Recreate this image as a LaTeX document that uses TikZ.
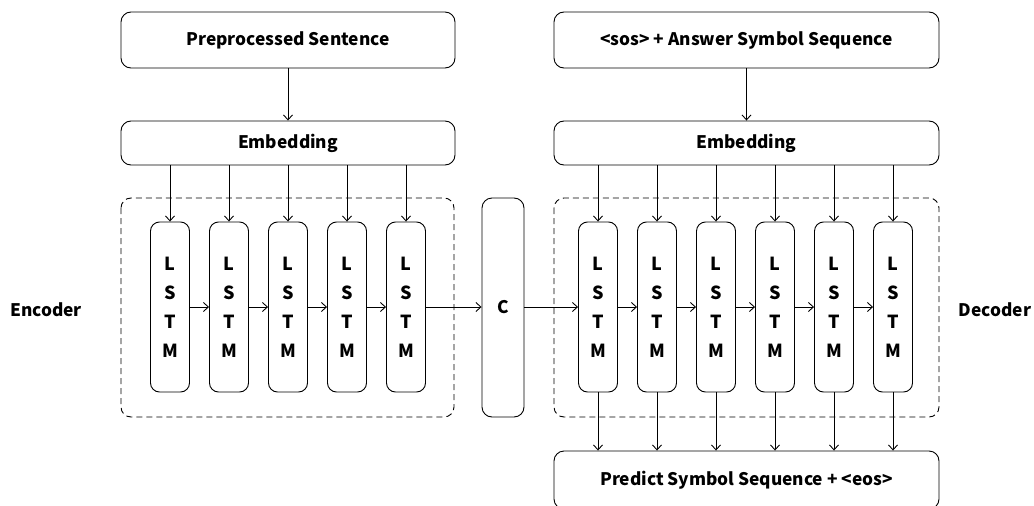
\documentclass[tikz,border=0pt]{standalone}
\usepackage{fontspec}
\setmainfont{Noto Sans CJK KR}
\usetikzlibrary{arrows.meta}
\begin{document}
\begin{tikzpicture}[x=1pt,y=-1pt,
  line width=0.9pt,
  box/.style={draw, rounded corners=10pt, inner sep=0pt, font=\bfseries\fontsize{17.3}{22}\selectfont},
  cell/.style={draw, rounded corners=9pt, inner sep=0pt, minimum width=39pt, minimum height=170pt, align=center, font=\bfseries\fontsize{18}{29}\selectfont},
  grp/.style={draw, dashed, dash pattern=on 6pt off 4pt, rounded corners=10pt},
  lab/.style={font=\bfseries\fontsize{17.3}{22}\selectfont},
  arr/.style={-{Straight Barb[length=5pt,width=9pt]}}
]
\useasboundingbox (0,0) rectangle (1034,506);
\clip (0,0) rectangle (1034,506);
% groups
\draw[grp] (121,198) rectangle (454,417);
\draw[grp] (554,198) rectangle (939,417);
% top boxes
\node[box, minimum width=334pt, minimum height=56pt] (srcL) at (288,40) {Preprocessed Sentence};
\node[box, minimum width=334pt, minimum height=44pt] (embL) at (288,143) {Embedding};
\node[box, minimum width=385pt, minimum height=56pt] (srcR) at (746.5,40) {<sos> + Answer Symbol Sequence};
\node[box, minimum width=385pt, minimum height=44pt] (embR) at (746.5,143) {Embedding};
\node[box, minimum width=385pt, minimum height=58pt] (out) at (746.5,480) {Predict Symbol Sequence + <eos>};
% encoder cells
\foreach \i/\x in {1/170,2/229,3/288,4/347,5/406}{
  \node[cell] (e\i) at (\x,307) {L\\S\\T\\M};
  \draw[arr] (embL.south -| e\i.north) -- (e\i.north);
}
% context
\node[box, minimum width=42pt, minimum height=219pt] (c) at (503,307.5) {C};
% decoder cells
\foreach \i/\x in {1/598,2/657,3/716,4/775,5/834,6/893}{
  \node[cell] (d\i) at (\x,307) {L\\S\\T\\M};
  \draw[arr] (embR.south -| d\i.north) -- (d\i.north);
  \draw[arr] (d\i.south) -- (out.north -| d\i.south);
}
% chains
\draw[arr] (e1.east) -- (e2.west);
\draw[arr] (e2.east) -- (e3.west);
\draw[arr] (e3.east) -- (e4.west);
\draw[arr] (e4.east) -- (e5.west);
\draw[arr] (e5.east) -- (c.west |- e5.east);
\draw[arr] (c.east |- d1.west) -- (d1.west);
\draw[arr] (d1.east) -- (d2.west);
\draw[arr] (d2.east) -- (d3.west);
\draw[arr] (d3.east) -- (d4.west);
\draw[arr] (d4.east) -- (d5.west);
\draw[arr] (d5.east) -- (d6.west);
% top arrows
\draw[arr] (srcL.south) -- (embL.north);
\draw[arr] (srcR.south) -- (embR.north);
% labels
\node[lab] (enc) at (46,310) {Encoder};
\node[lab] (dec) at (995,310) {Decoder};
\end{tikzpicture}
\end{document}
